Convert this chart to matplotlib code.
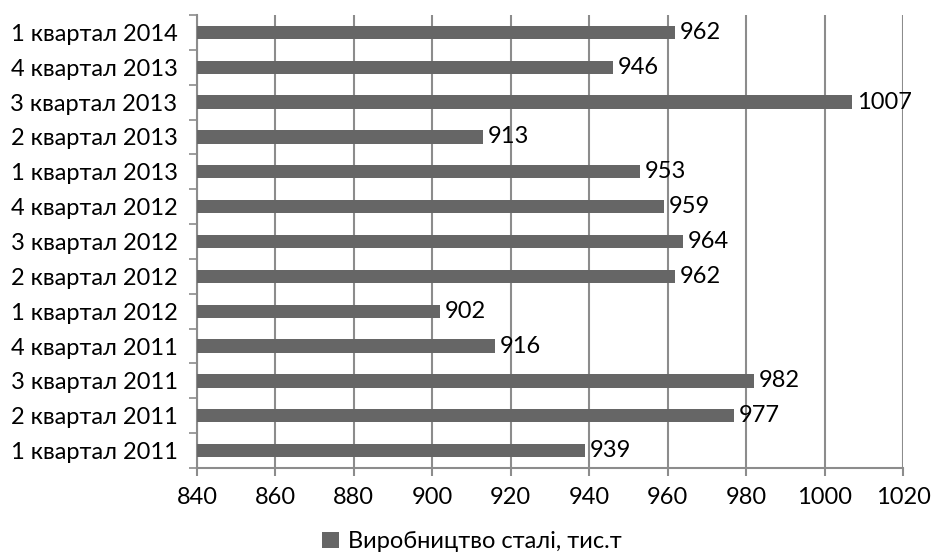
import numpy as np
import matplotlib.pyplot as plt

plt.rcParams['font.family'] = ['Lato', 'DejaVu Sans']

quarters = ["1 квартал 2011", "2 квартал 2011", "3 квартал 2011", "4 квартал 2011",
            "1 квартал 2012", "2 квартал 2012", "3 квартал 2012", "4 квартал 2012",
            "1 квартал 2013", "2 квартал 2013", "3 квартал 2013", "4 квартал 2013",
            "1 квартал 2014"]
steel = [939, 977, 982, 916, 902, 962, 964, 959, 953, 913, 1007, 946, 962]
series_name = "Виробництво сталі, тис.т"

bar_color = '#666666'
grid_color = '#8c8c8c'
fs = 17

fig = plt.figure(figsize=(9.33, 5.53), dpi=100)
ax = fig.add_axes([0.2111, 0.1537, 0.7567, 0.8192])

y = np.arange(len(quarters))
xmin = 840
bars = ax.barh(y, np.array(steel) - xmin, left=xmin, height=0.38,
               color=bar_color, zorder=3, label=series_name)

for yi, v in zip(y, steel):
    ax.text(v + 1.2, yi, str(v), va='center', ha='left', fontsize=fs, zorder=4)

ax.set_xlim(840, 1020)
ax.set_ylim(-0.5, len(quarters) - 0.5)
ax.set_xticks(np.arange(840, 1021, 20))

# category labels at bar centres, tick marks on the category boundaries
ax.set_yticks(y)
ax.set_yticklabels(quarters)
ax.set_yticks(np.arange(-0.5, len(quarters)), minor=True)
ax.tick_params(axis='y', which='major', length=0, pad=14, labelsize=fs)
ax.tick_params(axis='y', which='minor', length=6, width=1.2, color=grid_color)
ax.tick_params(axis='x', which='major', length=6, width=1.5, color=grid_color,
               labelsize=fs, pad=8)

ax.grid(axis='x', color=grid_color, linewidth=1.5, zorder=0)
for side in ['top', 'right']:
    ax.spines[side].set_visible(False)
for side in ['left', 'bottom']:
    ax.spines[side].set_color(grid_color)
    ax.spines[side].set_linewidth(1.5)

fig.legend(handles=[bars], labels=[series_name], loc='center',
           bbox_to_anchor=(0.506, 0.02), frameon=False, fontsize=fs,
           handlelength=0.7, handleheight=0.7, handletextpad=0.4)

fig.savefig('out.png', dpi=100)
